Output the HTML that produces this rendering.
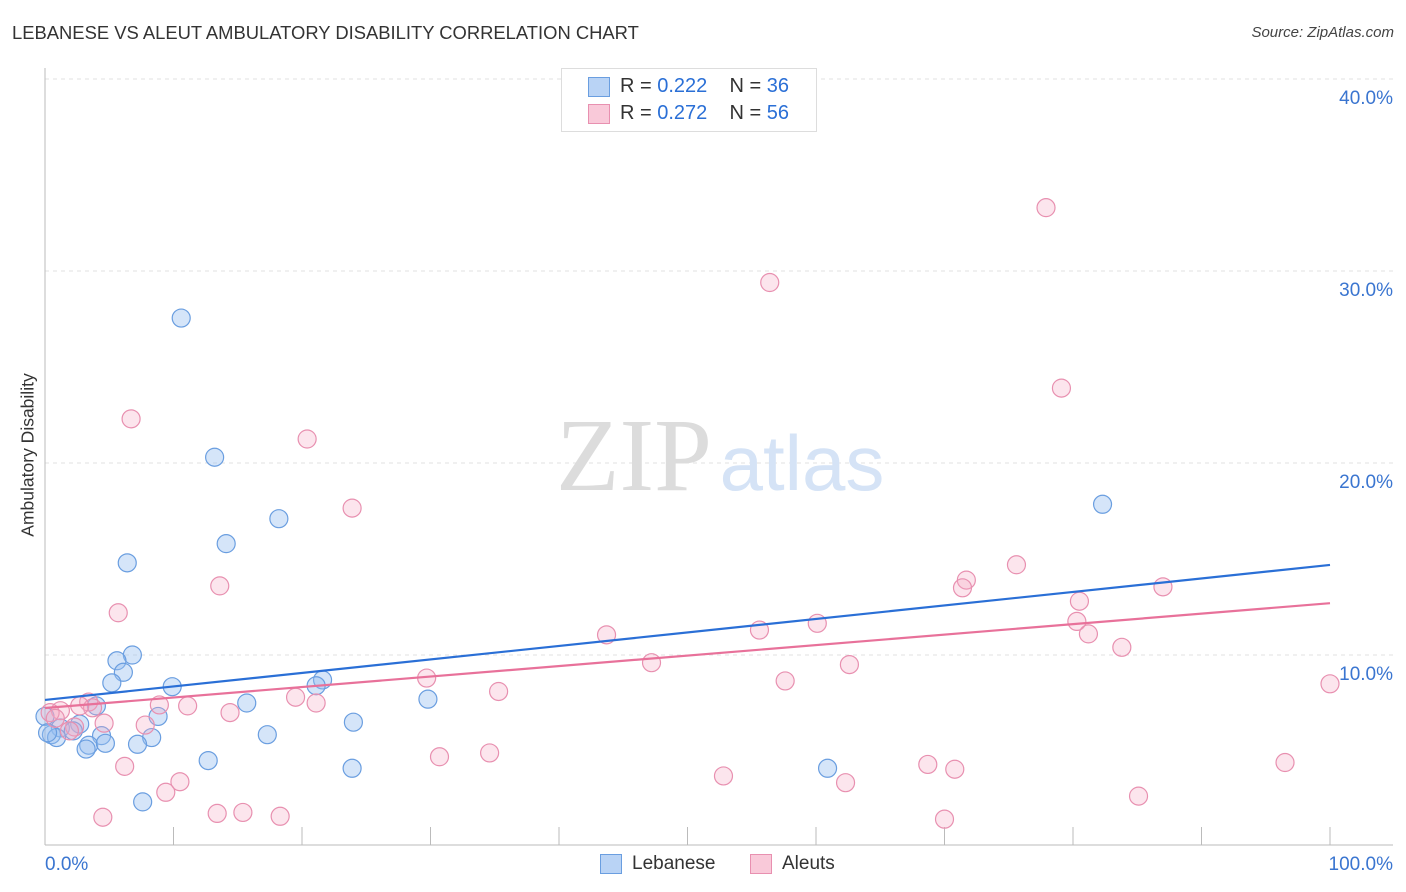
<!DOCTYPE html>
<html><head><meta charset="utf-8"><style>
body{margin:0;background:#fff;font-family:"Liberation Sans",sans-serif}
#c{position:relative;width:1406px;height:892px;overflow:hidden}
.t{position:absolute;white-space:nowrap}
</style></head><body>
<div id="c">
<div class="t" style="left:12px;top:22px;font-size:18.4px;color:#333">LEBANESE VS ALEUT AMBULATORY DISABILITY CORRELATION CHART</div>
<div class="t" style="right:12px;top:24px;font-size:15px;color:#444;font-style:italic">Source: ZipAtlas.com</div>
<div class="t" style="left:28px;top:455px;font-size:17.5px;color:#333;transform:translate(-50%,-50%) rotate(-90deg)">Ambulatory Disability</div>
<svg id="s" width="1406" height="892" style="position:absolute;left:0;top:0"></svg>
<div style="position:absolute;left:561px;top:68px;width:254px;height:62px;border:1px solid #ddd;background:#fff;font-size:20px;color:#333">
 <div style="position:absolute;left:26px;top:8px;width:20px;height:18px;background:#b9d3f5;border:1px solid #6a9ee0"></div>
 <div class="t" style="left:58px;top:6px">R = <span style="color:#2a6fd6">0.222</span>&nbsp;&nbsp;&nbsp; N = <span style="color:#2a6fd6">36</span></div>
 <div style="position:absolute;left:26px;top:35px;width:20px;height:18px;background:#f9c9d9;border:1px solid #e890b0"></div>
 <div class="t" style="left:58px;top:33px">R = <span style="color:#2a6fd6">0.272</span>&nbsp;&nbsp;&nbsp; N = <span style="color:#2a6fd6">56</span></div>
</div>
<div style="position:absolute;left:600px;top:852px;font-size:19px;color:#333;height:24px;width:260px">
 <div style="position:absolute;left:0;top:2px;width:20px;height:18px;background:#b9d3f5;border:1px solid #6a9ee0"></div>
 <div class="t" style="left:32px;top:1px">Lebanese</div>
 <div style="position:absolute;left:150px;top:2px;width:20px;height:18px;background:#f9c9d9;border:1px solid #e890b0"></div>
 <div class="t" style="left:182px;top:1px">Aleuts</div>
</div>
</div>
<script>
const blueX=[10.6,13.2,18.2,14.1,6.4,6.8,5.6,6.1,5.2,9.9,21.6,21.1,4.0,15.7,8.8,29.8,24.0,2.7,1.2,2.2,0.5,0.0,0.9,4.4,3.4,4.7,8.3,7.2,3.2,17.3,12.7,23.9,60.9,7.6,82.3,0.2];
const blueY=[27.55,20.3,17.1,15.8,14.8,10.0,9.7,9.1,8.55,8.35,8.7,8.4,7.35,7.5,6.8,7.7,6.5,6.4,6.2,6.05,5.85,6.8,5.7,5.8,5.3,5.4,5.7,5.35,5.1,5.85,4.5,4.1,4.1,2.35,17.85,5.95];
const pinkX=[77.9,56.4,79.1,6.7,20.4,23.9,13.6,75.6,71.7,71.4,87.0,80.5,5.7,43.7,55.6,60.1,80.3,81.2,83.8,47.2,62.6,57.6,29.7,35.3,100,19.5,21.1,11.1,8.9,3.4,3.7,2.7,1.2,0.4,14.4,4.6,7.8,2.3,1.9,30.7,34.6,6.2,10.5,9.4,52.8,68.7,70.8,62.3,96.5,85.1,4.5,13.4,15.4,18.3,70.0,0.8];
const pinkY=[33.3,29.4,23.9,22.3,21.25,17.65,13.6,14.7,13.9,13.5,13.55,12.8,12.2,11.05,11.3,11.65,11.75,11.1,10.4,9.6,9.5,8.65,8.8,8.1,8.5,7.8,7.5,7.35,7.4,7.55,7.25,7.35,7.1,7.0,7.0,6.45,6.35,6.25,6.05,4.7,4.9,4.2,3.4,2.85,3.7,4.3,4.05,3.35,4.4,2.65,1.55,1.75,1.8,1.6,1.45,6.7];
const blueTrend=[7.66,14.69];
const pinkTrend=[7.24,12.7];
const yTicks=[10,20,30,40];
const yTickLabels=["10.0%","20.0%","30.0%","40.0%"];
const xs=v=>45+v*12.85, ys=v=>847-v*19.2;
const s=document.getElementById('s'),NS='http://www.w3.org/2000/svg';
function add(tag,at,name){const e=document.createElementNS(NS,tag);for(const k in at)e.setAttribute(k,at[k]);


s.appendChild(e);return e;}
yTicks.forEach((t,i)=>{add('line',{x1:45,x2:1393,y1:ys(t),y2:ys(t),stroke:'#e2e2e2','stroke-dasharray':'4,4'},'gridline');
const tx=add('text',{x:1393,y:ys(t)+25,'text-anchor':'end','font-size':19,fill:'#3a75d0','font-family':'Liberation Sans'},'y-tick-label');tx.textContent=yTickLabels[i];});
add('line',{x1:45,x2:45,y1:68,y2:845,stroke:'#bbb'},'y-axis-line');
add('line',{x1:45,x2:1393,y1:845,y2:845,stroke:'#bbb'},'x-axis-line');
for(let k=1;k<=10;k++)add('line',{x1:xs(k*10),x2:xs(k*10),y1:827,y2:845,stroke:'#bbb'},'x-tick');
let t=add('text',{x:45,y:870,'font-size':19,fill:'#3a75d0','font-family':'Liberation Sans'},'x-tick-min');t.textContent='0.0%';
t=add('text',{x:1393,y:870,'text-anchor':'end','font-size':19,fill:'#3a75d0','font-family':'Liberation Sans'},'x-tick-max');t.textContent='100.0%';
t=add('text',{x:634,y:490,'text-anchor':'middle','font-size':104,fill:'#dcdcdc','font-family':'Liberation Serif'},'watermark-zip');t.textContent='ZIP';
t=add('text',{x:802,y:490,'text-anchor':'middle','font-size':78,fill:'#d5e3f6','font-family':'Liberation Sans'},'watermark-atlas');t.textContent='atlas';
blueX.forEach((x,i)=>add('circle',{cx:xs(x),cy:ys(blueY[i]),r:9,fill:'rgba(150,190,240,0.4)',stroke:'#6a9ee0','stroke-width':1.2},'lebanese-point'));
pinkX.forEach((x,i)=>add('circle',{cx:xs(x),cy:ys(pinkY[i]),r:9,fill:'rgba(245,170,195,0.3)',stroke:'#e890b0','stroke-width':1.2},'aleuts-point'));
add('line',{x1:xs(0),x2:xs(100),y1:ys(blueTrend[0]),y2:ys(blueTrend[1]),stroke:'#2a6fd6','stroke-width':2.2},'lebanese-trendline');
add('line',{x1:xs(0),x2:xs(100),y1:ys(pinkTrend[0]),y2:ys(pinkTrend[1]),stroke:'#e8719a','stroke-width':2.2},'aleuts-trendline');
</script>
</body></html>
